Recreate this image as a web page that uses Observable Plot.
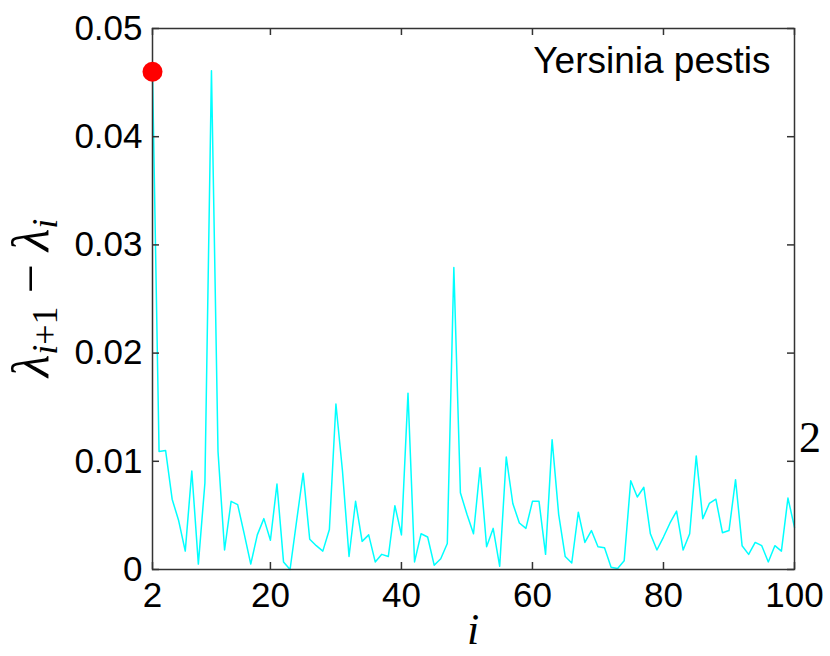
<!DOCTYPE html>
<html><head><meta charset="utf-8">
<script src="https://cdn.jsdelivr.net/npm/d3@7"></script>
<script src="https://cdn.jsdelivr.net/npm/@observablehq/plot@0.6"></script>
<style>
body{margin:0;background:#fff}
#chart{position:relative;width:830px;height:656px}
</style>
</head><body><div id="chart"></div>
<script>
// eigenvalue gaps lambda_{i+1} - lambda_i for i = 2..100
const firstIndex = 2;
const gaps = [
  0.0460, 0.0109, 0.0110, 0.0065, 0.0045, 0.0017, 0.0091, 0.0005, 0.0080, 0.0461,
  0.0109, 0.0018, 0.0063, 0.0060, 0.0033, 0.0005, 0.0032, 0.0047, 0.0027, 0.0079,
  0.0007, 0.0000, 0.0045, 0.0089, 0.0028, 0.0022, 0.0017, 0.0037, 0.0153, 0.0091,
  0.0012, 0.0063, 0.0026, 0.0032, 0.0007, 0.0014, 0.0012, 0.0059, 0.0032, 0.0163,
  0.0007, 0.0033, 0.0030, 0.0004, 0.0010, 0.0024, 0.0279, 0.0071, 0.0051, 0.0033,
  0.0094, 0.0021, 0.0038, 0.0003, 0.0104, 0.0061, 0.0043, 0.0038, 0.0063, 0.0063,
  0.0014, 0.0120, 0.0051, 0.0012, 0.0006, 0.0053, 0.0025, 0.0036, 0.0021, 0.0020,
  0.0002, 0.0001, 0.0008, 0.0082, 0.0067, 0.0076, 0.0033, 0.0018, 0.0030, 0.0043,
  0.0054, 0.0018, 0.0033, 0.0105, 0.0047, 0.0061, 0.0065, 0.0034, 0.0036, 0.0083,
  0.0022, 0.0014, 0.0025, 0.0022, 0.0007, 0.0022, 0.0017, 0.0066, 0.0039
];
const highlightIndex = [2];
const highlightValue = [0.046];
const xTicks = [2, 20, 40, 60, 80, 100];
const yTicks = [0, 0.01, 0.02, 0.03, 0.04, 0.05];
const yTickLabels = ["0", "0.01", "0.02", "0.03", "0.04", "0.05"];
const titleText = ["Yersinia pestis"];
const sideLabel = "2";

const data = gaps.map((v, k) => ({i: firstIndex + k, v}));
const highlight = highlightIndex.map((i, k) => ({i, v: highlightValue[k]}));
const axisColor = "#333";

const W = 830, H = 656, mL = 152, mR = 36, mT = 28, mB = 87;
const plotW = W - mL - mR, plotH = H - mT - mB, tickLen = 7;

const chart = Plot.plot({
  width: W, height: H,
  marginLeft: mL, marginRight: mR, marginTop: mT, marginBottom: mB,
  style: {fontFamily: "'Liberation Sans', Arial, sans-serif", fontSize: "35px", color: "#000", background: "#fff", overflow: "visible"},
  x: {domain: [2, 100], label: null},
  y: {domain: [0, 0.05], label: null},
  marks: [
    Plot.line(data, {x: "i", y: "v", stroke: "#00ffff", strokeWidth: 1.5}),
    Plot.frame({stroke: axisColor, strokeWidth: 1.5}),
    // inward tick marks on all four sides
    Plot.tickX(xTicks, {x: d => d, insetTop: plotH - tickLen, stroke: axisColor, strokeWidth: 1.5}),
    Plot.tickX(xTicks, {x: d => d, insetBottom: plotH - tickLen, stroke: axisColor, strokeWidth: 1.5}),
    Plot.tickY(yTicks, {y: d => d, insetRight: plotW - tickLen, stroke: axisColor, strokeWidth: 1.5}),
    Plot.tickY(yTicks, {y: d => d, insetLeft: plotW - tickLen, stroke: axisColor, strokeWidth: 1.5}),
    Plot.axisX(xTicks, {anchor: "bottom", tickSize: 0, tickPadding: 13, fill: "#000", label: null}),
    Plot.axisY(yTicks, {anchor: "left", tickSize: 0, tickPadding: 10, fill: "#000", label: null,
      tickFormat: d => yTickLabels[yTicks.indexOf(d)]}),
    Plot.dot(highlight, {x: "i", y: "v", r: 10, fill: "#ff0000", stroke: null}),
    Plot.text(titleText, {frameAnchor: "top-right", textAnchor: "end", lineAnchor: "top", dx: -24, dy: 18, fontSize: 37, fill: "#000"})
  ]
});

const svg = d3.select(chart);
// y-axis label: lambda_{i+1} - lambda_i
const yl = svg.append("text")
  .attr("transform", "translate(48,298) rotate(-90)")
  .attr("text-anchor", "middle")
  .attr("font-family", "'Liberation Serif', 'DejaVu Serif', serif")
  .attr("font-size", 52)
  .attr("fill", "#000");
yl.append("tspan").attr("font-style", "italic").text("λ");
yl.append("tspan").attr("font-style", "italic").attr("font-size", 36).attr("dy", 9).text("i");
yl.append("tspan").attr("font-size", 36).text("+1");
yl.append("tspan").attr("dy", -9).text(" − ");
yl.append("tspan").attr("font-style", "italic").text("λ");
yl.append("tspan").attr("font-style", "italic").attr("font-size", 36).attr("dy", 9).text("i");

// x-axis label
svg.append("text")
  .attr("x", 473).attr("y", 644)
  .attr("text-anchor", "middle")
  .attr("font-family", "'Liberation Serif', 'DejaVu Serif', serif")
  .attr("font-style", "italic")
  .attr("font-size", 44)
  .attr("fill", "#000")
  .text("i");

// side label
svg.append("text")
  .attr("x", 810).attr("y", 452)
  .attr("font-family", "'Liberation Serif', 'DejaVu Serif', serif")
  .attr("font-size", 44)
  .attr("fill", "#000")
  .text(sideLabel);

document.getElementById("chart").appendChild(chart);
</script>
</body></html>
